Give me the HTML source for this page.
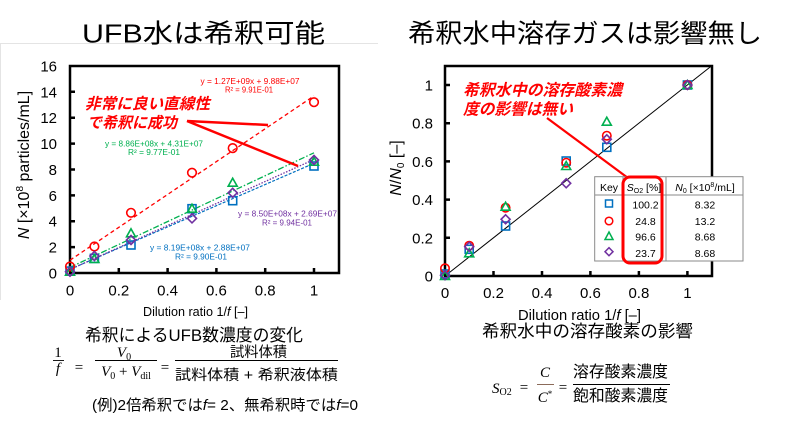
<!DOCTYPE html>
<html><head><meta charset="utf-8">
<style>
html,body{margin:0;padding:0;background:#fff;}
svg{display:block;}
text{font-family:"Liberation Sans","Noto Sans CJK JP",sans-serif;}
.serif{font-family:"Liberation Serif","Noto Serif CJK SC",serif;}
</style></head>
<body>
<svg width="800" height="428" viewBox="0 0 800 428" xmlns="http://www.w3.org/2000/svg">
<rect width="800" height="428" fill="#fff"/>
<!-- faint frame left image -->
<line x1="0" y1="43.5" x2="378" y2="43.5" stroke="#e4e4e4" stroke-width="1"/>
<line x1="0.5" y1="43" x2="0.5" y2="300" stroke="#e4e4e4" stroke-width="1"/>

<!-- Titles -->
<text x="82" y="42.5" font-size="26" textLength="243" lengthAdjust="spacingAndGlyphs">UFB水は希釈可能</text>
<text x="408" y="42.5" font-size="26" textLength="354" lengthAdjust="spacingAndGlyphs">希釈水中溶存ガスは影響無し</text>

<!-- ================= LEFT CHART ================= -->
<g stroke="#000" stroke-width="2.5" fill="none">
<rect x="70" y="66" width="269" height="207"/>
<path d="M70 247.1h5M70 221.2h5M70 195.4h5M70 169.5h5M70 143.6h5M70 117.7h5M70 91.8h5"/>
<path d="M118.8 273v-5M167.6 273v-5M216.4 273v-5M265.2 273v-5M314 273v-5"/>
</g>
<g font-size="15" text-anchor="end">
<text x="57" y="278.5">0</text>
<text x="57" y="252.6">2</text>
<text x="57" y="226.7">4</text>
<text x="57" y="200.9">6</text>
<text x="57" y="175">8</text>
<text x="57" y="149.1">10</text>
<text x="57" y="123.2">12</text>
<text x="57" y="97.3">14</text>
<text x="57" y="71.5">16</text>
</g>
<g font-size="15" text-anchor="middle">
<text x="70" y="295.5">0</text>
<text x="118.8" y="295.5">0.2</text>
<text x="167.6" y="295.5">0.4</text>
<text x="216.4" y="295.5">0.6</text>
<text x="265.2" y="295.5">0.8</text>
<text x="314" y="295.5">1</text>
</g>
<text x="143" y="316" font-size="13" textLength="105" lengthAdjust="spacingAndGlyphs">Dilution ratio 1/<tspan font-style="italic">f</tspan> [–]</text>
<text transform="translate(29,165) rotate(-90)" font-size="16" text-anchor="middle"><tspan font-style="italic">N</tspan> [×10<tspan font-size="10" dy="-6">8</tspan><tspan dy="6"> particles/mL]</tspan></text>

<!-- trend lines -->
<line x1="70" y1="260.2" x2="314" y2="95.9" stroke="#ff0000" stroke-width="1.3" stroke-dasharray="4 3"/>
<line x1="70" y1="267.4" x2="314" y2="152.8" stroke="#00b050" stroke-width="1.3" stroke-dasharray="6 2 1.5 2"/>
<line x1="70" y1="269.3" x2="314" y2="163.3" stroke="#0070c0" stroke-width="1.2" stroke-dasharray="3 1.5"/>
<line x1="70" y1="269.5" x2="314" y2="159.5" stroke="#7030a0" stroke-width="1.3" stroke-dasharray="1.5 1.5"/>

<!-- markers left -->
<g fill="none" stroke-width="1.6">
<g stroke="#0070c0">
<rect x="66" y="267.1" width="8" height="8"/>
<rect x="90.4" y="254.4" width="8" height="8"/>
<rect x="127" y="241" width="8" height="8"/>
<rect x="188" y="204.7" width="8" height="8"/>
<rect x="228.7" y="196.7" width="8" height="8"/>
<rect x="310" y="162" width="8" height="8"/>
</g>
<g stroke="#ff0000">
<circle cx="70" cy="266.5" r="4.3"/>
<circle cx="94.4" cy="246.5" r="4.3"/>
<circle cx="131" cy="212.8" r="4.3"/>
<circle cx="192" cy="172.7" r="4.3"/>
<circle cx="232.7" cy="148.1" r="4.3"/>
<circle cx="314" cy="102.2" r="4.3"/>
</g>
<g stroke="#00b050">
<polygon points="70,267.2 65.5,275.2 74.5,275.2"/>
<polygon points="94.4,254.5 89.9,262.5 98.9,262.5"/>
<polygon points="131,228.8 126.5,236.8 135.5,236.8"/>
<polygon points="192,204.2 187.5,212.2 196.5,212.2"/>
<polygon points="232.7,178.2 228.2,186.2 237.2,186.2"/>
<polygon points="314,157.2 309.5,165.2 318.5,165.2"/>
</g>
<g stroke="#7030a0">
<polygon points="70,267.2 74.5,271.7 70,276.2 65.5,271.7"/>
<polygon points="94.4,251.5 98.9,256 94.4,260.5 89.9,256"/>
<polygon points="131,235.5 135.5,240 131,244.5 126.5,240"/>
<polygon points="192,213.9 196.5,218.4 192,222.9 187.5,218.4"/>
<polygon points="232.7,188.3 237.2,192.8 232.7,197.3 228.2,192.8"/>
<polygon points="314,155.5 318.5,160 314,164.5 309.5,160"/>
</g>
</g>

<!-- equations -->
<g font-size="8.3" text-anchor="middle">
<text x="250" y="84" fill="#ff0000" textLength="99" lengthAdjust="spacingAndGlyphs">y = 1.27E+09x + 9.88E+07</text>
<text x="249" y="92.7" fill="#ff0000" textLength="48" lengthAdjust="spacingAndGlyphs">R² = 9.91E-01</text>
<text x="154" y="146.7" fill="#00b050" textLength="98" lengthAdjust="spacingAndGlyphs">y = 8.86E+08x + 4.31E+07</text>
<text x="154" y="155" fill="#00b050" textLength="52" lengthAdjust="spacingAndGlyphs">R² = 9.77E-01</text>
<text x="287.5" y="216.7" fill="#7030a0" textLength="99" lengthAdjust="spacingAndGlyphs">y = 8.50E+08x + 2.69E+07</text>
<text x="287" y="225.7" fill="#7030a0" textLength="50" lengthAdjust="spacingAndGlyphs">R² = 9.94E-01</text>
<text x="200" y="250.5" fill="#0070c0" textLength="100" lengthAdjust="spacingAndGlyphs">y = 8.19E+08x + 2.88E+07</text>
<text x="201" y="259.3" fill="#0070c0" textLength="52" lengthAdjust="spacingAndGlyphs">R² = 9.90E-01</text>
</g>

<!-- left annotation -->
<g fill="#ff0000" font-weight="bold" font-style="italic" font-size="15.5">
<text x="85" y="109" textLength="125" lengthAdjust="spacingAndGlyphs">非常に良い直線性</text>
<text x="87" y="128" textLength="90" lengthAdjust="spacingAndGlyphs">で希釈に成功</text>
</g>
<g stroke="#ff0000" stroke-width="2.5" fill="none">
<line x1="187" y1="121" x2="268" y2="125"/>
<line x1="187" y1="121" x2="298" y2="166"/>
</g>

<!-- left captions & formula -->
<text x="85" y="341" font-size="17" textLength="218" lengthAdjust="spacingAndGlyphs">希釈によるUFB数濃度の変化</text>
<g class="serif" font-size="15">
<text x="58" y="357" text-anchor="middle" class="serif">1</text>
<line x1="53" y1="360.5" x2="64" y2="360.5" stroke="#000" stroke-width="0.9"/>
<text x="58" y="373" text-anchor="middle" font-style="italic" class="serif">f</text>
<text x="79" y="372" text-anchor="middle" class="serif">=</text>
<text x="124" y="357" text-anchor="middle" class="serif"><tspan font-style="italic">V</tspan><tspan font-size="10" dy="3">0</tspan></text>
<line x1="95" y1="360.5" x2="157" y2="360.5" stroke="#000" stroke-width="0.9"/>
<text x="126" y="376" text-anchor="middle" class="serif"><tspan font-style="italic">V</tspan><tspan font-size="10" dy="3">0</tspan><tspan dy="-3"> + </tspan><tspan font-style="italic">V</tspan><tspan font-size="10" dy="3">dil</tspan></text>
<text x="165" y="372" text-anchor="middle" class="serif">=</text>
</g>
<text x="230" y="357" font-size="14.5" textLength="57" lengthAdjust="spacingAndGlyphs">試料体積</text>
<line x1="175" y1="360.5" x2="338" y2="360.5" stroke="#000" stroke-width="0.9"/>
<text x="175" y="380" font-size="14.5" textLength="163" lengthAdjust="spacingAndGlyphs">試料体積 + 希釈液体積</text>
<text x="92" y="410" font-size="15" textLength="266" lengthAdjust="spacingAndGlyphs">(例)2倍希釈では<tspan font-style="italic">f</tspan>= 2、無希釈時では<tspan font-style="italic">f</tspan>=0</text>

<!-- ================= RIGHT CHART ================= -->
<line x1="445" y1="276" x2="711.6" y2="65.9" stroke="#000" stroke-width="1"/>
<g stroke="#000" stroke-width="2.5" fill="none">
<rect x="445" y="66" width="267" height="210"/>
<path d="M445 237.8h5M445 199.6h5M445 161.4h5M445 123.2h5M445 85h5"/>
<path d="M493.5 276v-5M542 276v-5M590.4 276v-5M638.9 276v-5M687.4 276v-5"/>
</g>
<g font-size="15" text-anchor="end">
<text x="433" y="281.5">0</text>
<text x="433" y="243.3">0.2</text>
<text x="433" y="205.1">0.4</text>
<text x="433" y="166.9">0.6</text>
<text x="433" y="128.7">0.8</text>
<text x="433" y="90.5">1</text>
</g>
<g font-size="15" text-anchor="middle">
<text x="445" y="298">0</text>
<text x="493.5" y="298">0.2</text>
<text x="542" y="298">0.4</text>
<text x="590.4" y="298">0.6</text>
<text x="638.9" y="298">0.8</text>
<text x="687.4" y="298">1</text>
</g>
<text x="518" y="320" font-size="15" textLength="123" lengthAdjust="spacingAndGlyphs">Dilution ratio 1/<tspan font-style="italic">f</tspan> [–]</text>
<text transform="translate(401,168) rotate(-90)" font-size="16" text-anchor="middle"><tspan font-style="italic">N</tspan>/<tspan font-style="italic">N</tspan><tspan font-size="10" dy="3">0</tspan><tspan dy="-3"> [–]</tspan></text>

<!-- markers right -->
<g fill="none" stroke-width="1.6">
<g stroke="#0070c0">
<rect x="441" y="270" width="8" height="8"/>
<rect x="465.2" y="245.3" width="8" height="8"/>
<rect x="501.6" y="222" width="8" height="8"/>
<rect x="562.2" y="157" width="8" height="8"/>
<rect x="602.8" y="143.3" width="8" height="8"/>
<rect x="683.4" y="81" width="8" height="8"/>
</g>
<g stroke="#ff0000">
<circle cx="445" cy="268.3" r="4.2"/>
<circle cx="469.2" cy="245.7" r="4.2"/>
<circle cx="505.6" cy="207.7" r="4.2"/>
<circle cx="566.2" cy="162.7" r="4.2"/>
<circle cx="606.8" cy="135.7" r="4.2"/>
<circle cx="687.4" cy="85" r="4.2"/>
</g>
<g stroke="#00b050">
<polygon points="445,271.5 440.5,279.5 449.5,279.5"/>
<polygon points="469.2,248.8 464.7,256.8 473.7,256.8"/>
<polygon points="505.6,202.2 501.1,210.2 510.1,210.2"/>
<polygon points="566.2,161.5 561.7,169.5 570.7,169.5"/>
<polygon points="606.8,117.2 602.3,125.2 611.3,125.2"/>
<polygon points="687.4,80.5 682.9,88.5 691.9,88.5"/>
</g>
<g stroke="#7030a0">
<polygon points="445,270.8 449.5,275.3 445,279.8 440.5,275.3"/>
<polygon points="469.2,242.2 473.7,246.7 469.2,251.2 464.7,246.7"/>
<polygon points="505.6,214.8 510.1,219.3 505.6,223.8 501.1,219.3"/>
<polygon points="566.2,178.8 570.7,183.3 566.2,187.8 561.7,183.3"/>
<polygon points="606.8,134.8 611.3,139.3 606.8,143.8 602.3,139.3"/>
<polygon points="687.4,80.5 691.9,85 687.4,89.5 682.9,85"/>
</g>
</g>

<!-- right annotation -->
<g fill="#ff0000" font-weight="bold" font-style="italic" font-size="16">
<text x="463" y="95.5" textLength="159" lengthAdjust="spacingAndGlyphs">希釈水中の溶存酸素濃</text>
<text x="463" y="114.5" textLength="110" lengthAdjust="spacingAndGlyphs">度の影響は無い</text>
</g>
<line x1="547" y1="118" x2="628" y2="178" stroke="#ff0000" stroke-width="2.2"/>

<!-- table -->
<rect x="594.7" y="176.7" width="148.3" height="84.3" fill="#fff" stroke="#8a8a8a" stroke-width="1"/>
<line x1="623" y1="176.7" x2="623" y2="261" stroke="#8a8a8a" stroke-width="1"/>
<line x1="666" y1="176.7" x2="666" y2="261" stroke="#8a8a8a" stroke-width="1"/>
<line x1="594.7" y1="195" x2="743" y2="195" stroke="#8a8a8a" stroke-width="1"/>
<g font-size="10.5" text-anchor="middle">
<text x="609" y="191">Key</text>
<text x="644" y="191"><tspan font-style="italic">S</tspan><tspan font-size="7" dy="2">O2</tspan><tspan dy="-2"> [%]</tspan></text>
<text x="705" y="191"><tspan font-style="italic">N</tspan><tspan font-size="7" dy="2">0</tspan><tspan dy="-2"> [×10</tspan><tspan font-size="7" dy="-4">8</tspan><tspan dy="4">/mL]</tspan></text>
<text x="645.5" y="208.5">100.2</text>
<text x="645.5" y="225">24.8</text>
<text x="645.5" y="240.7">96.6</text>
<text x="645.5" y="257">23.7</text>
<text x="705" y="208.5">8.32</text>
<text x="705" y="225">13.2</text>
<text x="705" y="240.7">8.68</text>
<text x="705" y="257">8.68</text>
</g>
<g fill="none" stroke-width="1.5">
<rect x="605.5" y="200" width="7" height="7" stroke="#0070c0"/>
<circle cx="609" cy="221" r="3.8" stroke="#ff0000"/>
<polygon points="609,232 605,239.5 613,239.5" stroke="#00b050"/>
<polygon points="609,247.7 613,251.7 609,255.7 605,251.7" stroke="#7030a0"/>
</g>
<rect x="623" y="177" width="39" height="86" rx="7" ry="7" fill="none" stroke="#ff0000" stroke-width="3"/>

<!-- right captions & formula -->
<text x="482" y="337" font-size="17" textLength="211" lengthAdjust="spacingAndGlyphs">希釈水中の溶存酸素の影響</text>
<text x="492" y="393" font-size="15" class="serif"><tspan font-style="italic">S</tspan><tspan font-size="10" dy="2">O2</tspan></text>
<text x="524" y="392" font-size="15" text-anchor="middle" class="serif">=</text>
<text x="545" y="377" font-size="15" text-anchor="middle" font-style="italic" class="serif">C</text>
<line x1="537" y1="384.5" x2="554" y2="384.5" stroke="#8b6b5a" stroke-width="0.9"/>
<text x="545" y="402" font-size="15" text-anchor="middle" class="serif"><tspan font-style="italic">C</tspan><tspan font-size="9" dy="-5">*</tspan></text>
<text x="563" y="392" font-size="15" text-anchor="middle" class="serif">=</text>
<text x="573" y="377" font-size="16" textLength="95" lengthAdjust="spacingAndGlyphs">溶存酸素濃度</text>
<line x1="573" y1="384.5" x2="670" y2="384.5" stroke="#000" stroke-width="0.9"/>
<text x="573" y="401" font-size="16" textLength="95" lengthAdjust="spacingAndGlyphs">飽和酸素濃度</text>
</svg>
</body></html>
